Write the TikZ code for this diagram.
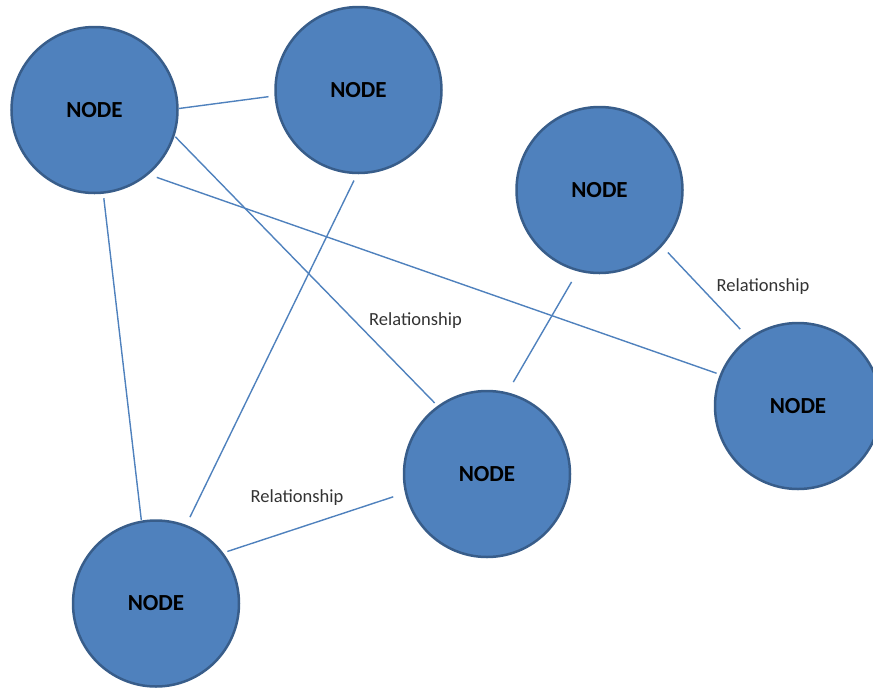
\documentclass[tikz,border=0pt]{standalone}
\usepackage{fontspec}
\setmainfont{Carlito}
\usepackage{tikz}
\usetikzlibrary{positioning}
\definecolor{nodeblue}{RGB}{79,129,189}
\definecolor{nodeedge}{RGB}{56,93,138}

\begin{document}
\begin{tikzpicture}[x=1pt,y=-1pt]
  \tikzstyle{entity}=[circle,draw=nodeedge,line width=2.5pt,fill=nodeblue,minimum size=166pt,inner sep=0pt,font=\fontsize{23}{27}\selectfont\bfseries]
  \tikzstyle{link}=[draw=nodeblue,line width=1.4pt]
  \tikzstyle{rel}=[font=\fontsize{18.5}{22}\selectfont,text=black!80,inner sep=0pt]

  \useasboundingbox (0,0) rectangle (873,689);

  \node[entity] (n1) at (94.5,110) {NODE};
  \node[entity] (n2) at (358.5,90) {NODE};
  \node[entity] (n3) at (599.5,190) {NODE};
  \node[entity] (n4) at (798,406) {NODE};
  \node[entity] (n5) at (487,474) {NODE};
  \node[entity] (n6) at (156,603.5) {NODE};

  \node[rel] (rel1) at (415.5,321) {Relationship};
  \node[rel] (rel2) at (763,287) {Relationship};
  \node[rel] (rel3) at (297,498) {Relationship};

  \draw[link,shorten >=6pt] (n1.1) -- (n2.184);
  \draw[link,shorten <=1pt,shorten >=4pt] (n1.342) -- (n5.126);
  \draw[link,shorten <=8.6pt,shorten >=3.5pt] (n1.310) -- (n4.158);
  \draw[link,shorten <=4.5pt,shorten >=0.7pt] (n1.276) -- (n6.100);
  \draw[link,shorten <=7pt,shorten >=8.6pt] (n2.269) -- (n6.69);
  \draw[link,shorten <=4.3pt,shorten >=12.3pt] (n6.37) -- (n5.193);
  \draw[link,shorten <=11.8pt,shorten >=12.2pt] (n5.76) -- (n3.255);
  \draw[link,shorten <=8.4pt,shorten >=12pt] (n3.318) -- (n4.126);
\end{tikzpicture}
\end{document}
